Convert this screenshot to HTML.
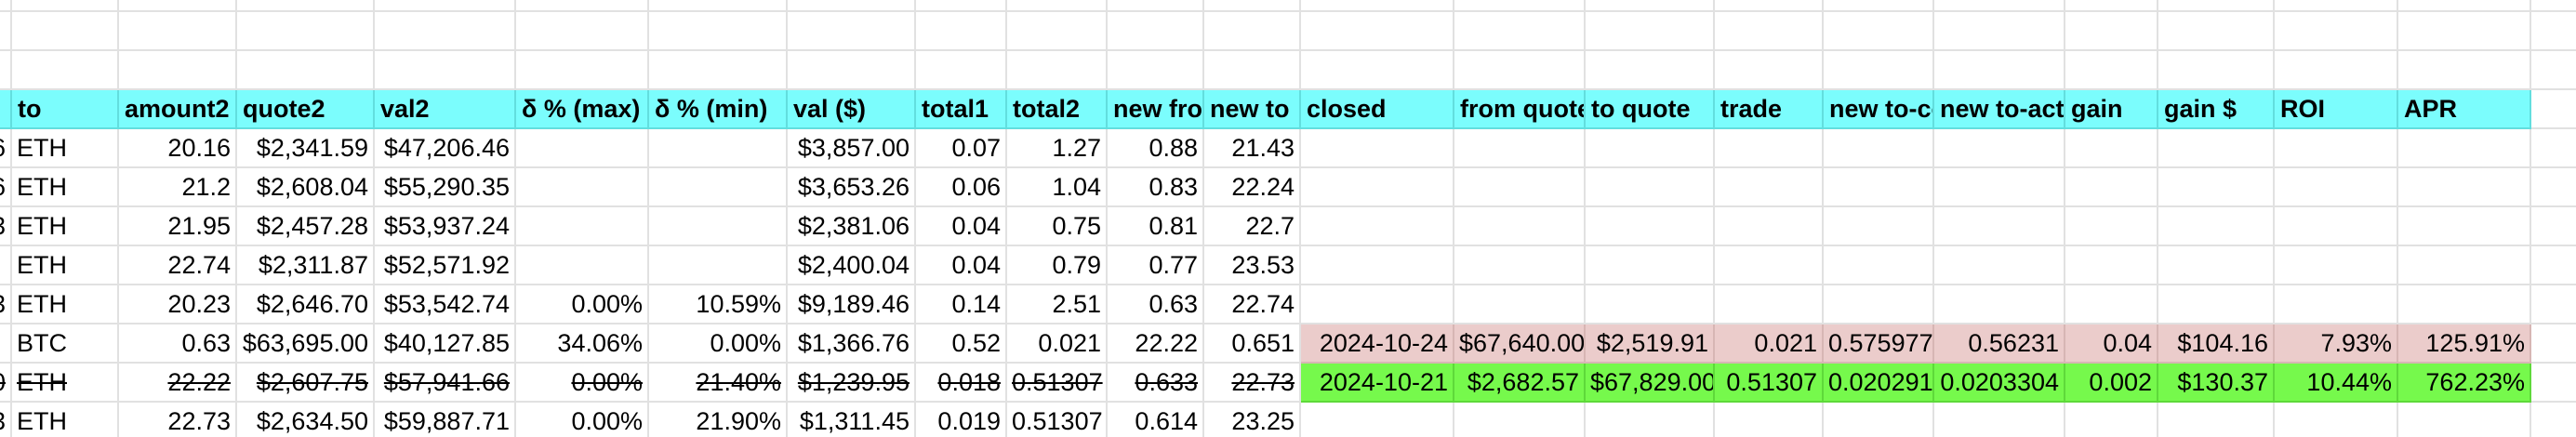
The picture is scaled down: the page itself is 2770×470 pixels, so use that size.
<!DOCTYPE html>
<html><head><meta charset="utf-8"><style>
html,body{margin:0;padding:0;background:#fff;width:2770px;height:470px;overflow:hidden;position:relative;}
table{position:absolute;left:-29px;top:-31px;width:2809px;border-collapse:collapse;table-layout:fixed;font-family:"Liberation Sans",Arial,sans-serif;font-size:27px;color:#000;}
td{height:40px;border:2px solid #e1e1e1;padding:0 5px;white-space:nowrap;overflow:hidden;text-align:right;line-height:40px;}
td.l{text-align:left;}
tr.h td{background:#7bfdfd;border-color:#62dede;font-weight:bold;text-align:left;padding-left:6px;}
tr.h td.e{background:#fff;border-color:#e1e1e1;}
tr.s td{text-decoration:line-through;}
td.p{background:#ebcccb;border-color:#d7b6b4;}
td.g{background:#76f94c;border-color:#5ed93a;text-decoration:none !important;}
</style></head><body>
<table>
<colgroup>
<col style="width:40px"><col style="width:115px"><col style="width:127px"><col style="width:148px"><col style="width:152px"><col style="width:143px"><col style="width:149px"><col style="width:138px"><col style="width:98px"><col style="width:108px"><col style="width:104px"><col style="width:104px"><col style="width:165px"><col style="width:141px"><col style="width:139px"><col style="width:117px"><col style="width:119px"><col style="width:141px"><col style="width:100px"><col style="width:125px"><col style="width:133px"><col style="width:143px"><col style="width:60px">
</colgroup>
<tr><td></td><td></td><td></td><td></td><td></td><td></td><td></td><td></td><td></td><td></td><td></td><td></td><td></td><td></td><td></td><td></td><td></td><td></td><td></td><td></td><td></td><td></td><td></td></tr>
<tr><td></td><td></td><td></td><td></td><td></td><td></td><td></td><td></td><td></td><td></td><td></td><td></td><td></td><td></td><td></td><td></td><td></td><td></td><td></td><td></td><td></td><td></td><td></td></tr>
<tr><td></td><td></td><td></td><td></td><td></td><td></td><td></td><td></td><td></td><td></td><td></td><td></td><td></td><td></td><td></td><td></td><td></td><td></td><td></td><td></td><td></td><td></td><td></td></tr>
<tr class="h"><td></td><td>to</td><td>amount2</td><td>quote2</td><td>val2</td><td>δ % (max)</td><td>δ % (min)</td><td>val ($)</td><td>total1</td><td>total2</td><td>new fro</td><td>new to</td><td>closed</td><td>from quote</td><td>to quote</td><td>trade</td><td>new to-cost</td><td>new to-act</td><td>gain</td><td>gain $</td><td>ROI</td><td>APR</td><td class="e"></td></tr>
<tr><td>6</td><td class="l">ETH</td><td>20.16</td><td>$2,341.59</td><td>$47,206.46</td><td></td><td></td><td>$3,857.00</td><td>0.07</td><td>1.27</td><td>0.88</td><td>21.43</td><td></td><td></td><td></td><td></td><td></td><td></td><td></td><td></td><td></td><td></td><td></td></tr>
<tr><td>6</td><td class="l">ETH</td><td>21.2</td><td>$2,608.04</td><td>$55,290.35</td><td></td><td></td><td>$3,653.26</td><td>0.06</td><td>1.04</td><td>0.83</td><td>22.24</td><td></td><td></td><td></td><td></td><td></td><td></td><td></td><td></td><td></td><td></td><td></td></tr>
<tr><td>3</td><td class="l">ETH</td><td>21.95</td><td>$2,457.28</td><td>$53,937.24</td><td></td><td></td><td>$2,381.06</td><td>0.04</td><td>0.75</td><td>0.81</td><td>22.7</td><td></td><td></td><td></td><td></td><td></td><td></td><td></td><td></td><td></td><td></td><td></td></tr>
<tr><td></td><td class="l">ETH</td><td>22.74</td><td>$2,311.87</td><td>$52,571.92</td><td></td><td></td><td>$2,400.04</td><td>0.04</td><td>0.79</td><td>0.77</td><td>23.53</td><td></td><td></td><td></td><td></td><td></td><td></td><td></td><td></td><td></td><td></td><td></td></tr>
<tr><td>3</td><td class="l">ETH</td><td>20.23</td><td>$2,646.70</td><td>$53,542.74</td><td>0.00%</td><td>10.59%</td><td>$9,189.46</td><td>0.14</td><td>2.51</td><td>0.63</td><td>22.74</td><td></td><td></td><td></td><td></td><td></td><td></td><td></td><td></td><td></td><td></td><td></td></tr>
<tr><td></td><td class="l">BTC</td><td>0.63</td><td>$63,695.00</td><td>$40,127.85</td><td>34.06%</td><td>0.00%</td><td>$1,366.76</td><td>0.52</td><td>0.021</td><td>22.22</td><td>0.651</td><td class="p">2024-10-24</td><td class="p">$67,640.00</td><td class="p">$2,519.91</td><td class="p">0.021</td><td class="p">0.575977</td><td class="p">0.56231</td><td class="p">0.04</td><td class="p">$104.16</td><td class="p">7.93%</td><td class="p">125.91%</td><td></td></tr>
<tr class="s"><td>0</td><td class="l">ETH</td><td>22.22</td><td>$2,607.75</td><td>$57,941.66</td><td>0.00%</td><td>21.40%</td><td>$1,239.95</td><td>0.018</td><td>0.51307</td><td>0.633</td><td>22.73</td><td class="g">2024-10-21</td><td class="g">$2,682.57</td><td class="g">$67,829.00</td><td class="g">0.51307</td><td class="g">0.020291</td><td class="g">0.0203304</td><td class="g">0.002</td><td class="g">$130.37</td><td class="g">10.44%</td><td class="g">762.23%</td><td></td></tr>
<tr><td>3</td><td class="l">ETH</td><td>22.73</td><td>$2,634.50</td><td>$59,887.71</td><td>0.00%</td><td>21.90%</td><td>$1,311.45</td><td>0.019</td><td>0.51307</td><td>0.614</td><td>23.25</td><td></td><td></td><td></td><td></td><td></td><td></td><td></td><td></td><td></td><td></td><td></td></tr>
</table>
</body></html>
